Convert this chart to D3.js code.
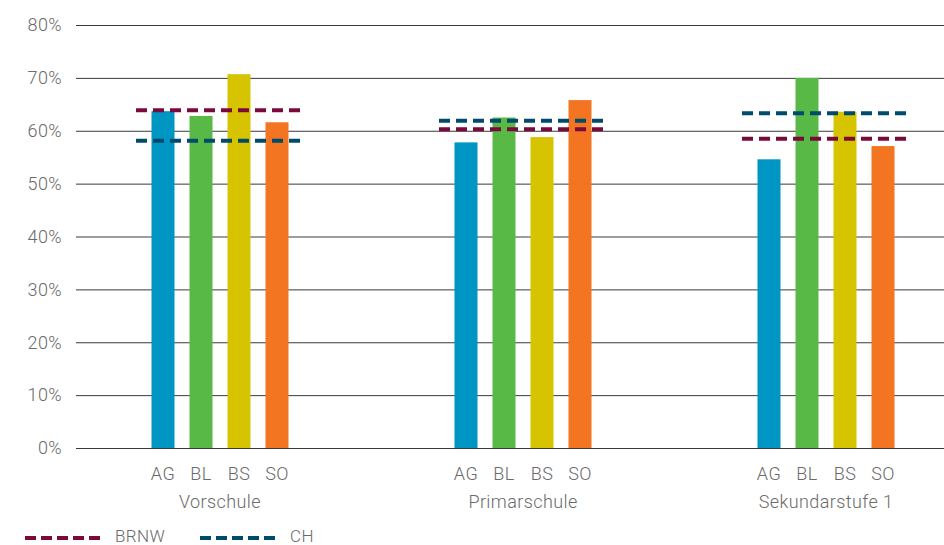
<!DOCTYPE html>
<html><head><meta charset="utf-8">
<script src="https://cdn.jsdelivr.net/npm/d3@7"></script>
<style>body{margin:0;background:#fff;} text{font-family:Roboto, "Open Sans", sans-serif;font-weight:300;letter-spacing:0.4px;}</style>
</head><body><svg id="c" width="944" height="545"></svg>
<script>
const groups = ["Vorschule", "Primarschule", "Sekundarstufe 1"];
const cantons = ["AG", "BL", "BS", "SO"];
const AG = [63.7, 57.8, 54.6];
const BL = [62.8, 62.5, 70.0];
const BS = [70.7, 58.8, 63.6];
const SO = [61.6, 65.8, 57.1];
const BRNW = [63.9, 60.3, 58.5];
const CH = [58.1, 61.9, 63.3];
const yTicks = [0, 10, 20, 30, 40, 50, 60, 70, 80];
const colors = {AG:"#0096c4", BL:"#58b947", BS:"#d6c400", SO:"#f37421"};
const refColors = {BRNW:"#7b0a3c", CH:"#004b6b"};

const series = {AG, BL, BS, SO};
const svg = d3.select("#c");
const y = d3.scaleLinear().domain([0, 80]).range([448, 25]);
const x0 = d3.scaleBand().domain(groups).range([68.5, 977.5]);
const x1 = d3.scaleBand().domain(cantons).range([-68.5, 68.5]).paddingInner(15/38);
const txt = "#6a6a6a";

// grid
svg.append("g").selectAll("line").data(yTicks).join("line")
  .attr("x1", 76).attr("x2", 944)
  .attr("y1", d => y(d) + 0.5).attr("y2", d => y(d) + 0.5)
  .attr("stroke", "#3a3a3a").attr("stroke-width", 1);
svg.append("g").selectAll("text").data(yTicks).join("text")
  .attr("x", 62).attr("y", d => y(d)).attr("dy", "0.35em")
  .attr("text-anchor", "end").attr("font-size", 18).attr("fill", txt)
  .text(d => d + "%");

// bars
groups.forEach((g, gi) => {
  const cx = x0(g) + x0.bandwidth() / 2;
  const gg = svg.append("g").attr("transform", `translate(${cx},0)`);
  gg.selectAll("rect").data(cantons).join("rect")
    .attr("x", c => x1(c)).attr("width", x1.bandwidth())
    .attr("y", c => y(series[c][gi])).attr("height", c => y(0) - y(series[c][gi]))
    .attr("fill", c => colors[c]);
  gg.selectAll("text.cat").data(cantons).join("text").attr("class", "cat")
    .attr("x", c => x1(c) + x1.bandwidth() / 2).attr("y", 474).attr("dy", "0.35em")
    .attr("text-anchor", "middle").attr("font-size", 18).attr("fill", txt).text(c => c);
  gg.append("text").attr("x", 0).attr("y", 502).attr("dy", "0.35em").attr("text-anchor", "middle")
    .attr("font-size", 18).attr("fill", txt).text(g);
  [["BRNW", BRNW], ["CH", CH]].forEach(([k, arr]) => {
    gg.append("line").attr("x1", -84).attr("x2", 84)
      .attr("y1", y(arr[gi])).attr("y2", y(arr[gi]))
      .attr("stroke", refColors[k]).attr("stroke-width", 4)
      .attr("stroke-dasharray", "11,6");
  });
});

// legend
const leg = [["BRNW", 25, 115], ["CH", 200, 290]];
leg.forEach(([k, lx, tx]) => {
  svg.append("line").attr("x1", lx).attr("x2", lx + 75).attr("y1", 538).attr("y2", 538)
    .attr("stroke", refColors[k]).attr("stroke-width", 4).attr("stroke-dasharray", "11,5");
  svg.append("text").attr("x", tx).attr("y", 536).attr("dy", "0.35em")
    .attr("font-size", 17).attr("fill", txt).text(k);
});
</script></body></html>
